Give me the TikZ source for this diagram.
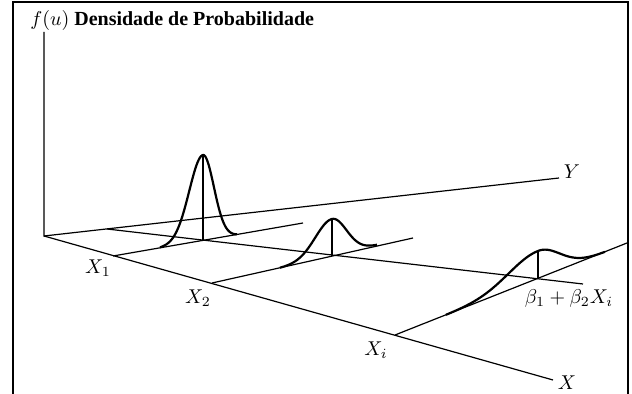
\documentclass[tikz,border=0pt]{standalone}
\usepackage{amsmath}
\usepackage{fontspec}
\setmainfont{Liberation Serif}

\tikzset{
  axis/.style={line width=0.6pt},
  curve/.style={line width=1.1pt, line join=round},
  frame/.style={line width=0.8pt},
  lbl/.style={inner sep=0pt}
}

% density on the line through base (#1,#2): left tail (#3,#4), right tail (#5,#6), height #7
\newcommand{\density}[7]{%
  \draw[curve] plot[domain=-1:1, samples=81, smooth, variable=\t]
    ({#1+\t*((\t<0)*(#1-#3)+(\t>=0)*(#5-#1))},
     {#2+\t*((\t<0)*(#2-#4)+(\t>=0)*(#6-#2))-#7*exp(-\t*\t/(2*0.32*0.32))});
}

\begin{document}
\begin{tikzpicture}[x=0.5pt, y=-0.5pt]
  \useasboundingbox (0,0) rectangle (632,394);
  \draw[frame] (13,394) -- (13,2) -- (628,2) -- (628,394);

  \coordinate (O)     at (44,236);
  \coordinate (Ftop)  at (44,32);
  \coordinate (Yend)  at (559,178);
  \coordinate (Xend)  at (553,380);
  \coordinate (X1)    at (113,256);
  \coordinate (X1end) at (303,223);
  \coordinate (X2)    at (212,283);
  \coordinate (X2end) at (413,238);
  \coordinate (Xi)    at (395,335);
  \coordinate (Xiend) at (627,243);
  \coordinate (R0)    at (107,229);
  \coordinate (R1)    at (583,284);
  \coordinate (B1)    at (203,240);
  \coordinate (B2)    at (332,256);
  \coordinate (B3)    at (538,279);
  \coordinate (P1)    at (203,155);
  \coordinate (P2)    at (332,219);
  \coordinate (P3)    at (538,251);

  \node[lbl, anchor=base west] (title) at (30,26) {$f(u)$ \textbf{Densidade de Probabilidade}};
  \node[lbl] (ylab)  at (572,172) {$Y$};
  \node[lbl] (xlab)  at (567,383) {$X$};
  \node[lbl] (x1lab) at (98,268)  {$X_1$};
  \node[lbl] (x2lab) at (198,298) {$X_2$};
  \node[lbl] (xilab) at (376,350) {$X_i$};
  \node[lbl] (reg)   at (569,299) {$\beta_1 + \beta_2 X_i$};

  \draw[axis] (Ftop) -- (O) -- (Yend);
  \draw[axis] (O) -- (Xend);
  \draw[axis] (X1) -- (X1end);
  \draw[axis] (X2) -- (X2end);
  \draw[axis] (Xi) -- (Xiend);
  \draw[axis] (R0) -- (R1);
  \draw[axis] (B1) -- (P1);
  \draw[axis] (B2) -- (P2);
  \draw[axis] (B3) -- (P3);

  \density{203}{240}{160}{248}{237}{235}{85}
  \density{332}{256}{280}{268}{377}{245}{37}
  \density{538}{279}{446}{315}{605}{252}{28}
\end{tikzpicture}
\end{document}
